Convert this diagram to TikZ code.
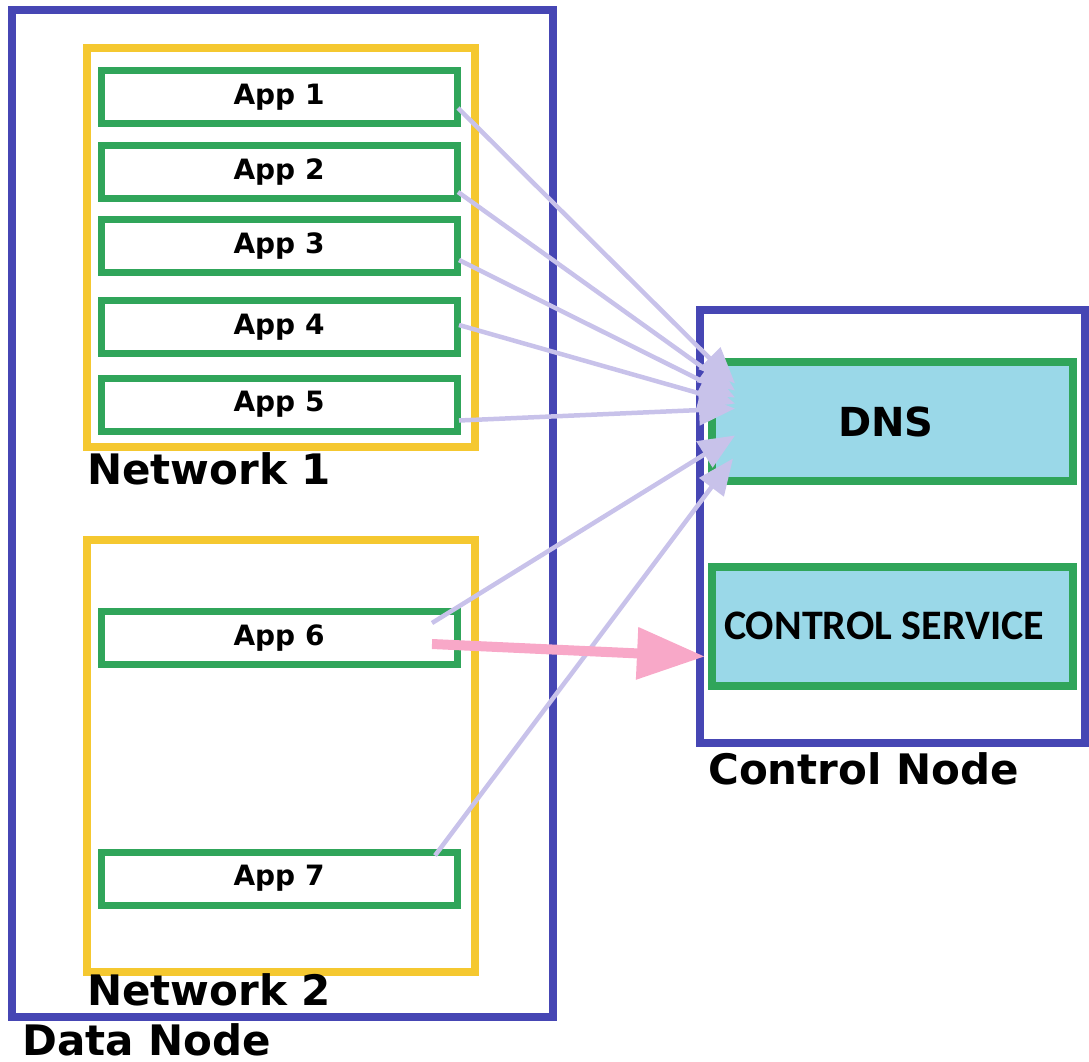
\documentclass[tikz,border=0pt]{standalone}
\usepackage{fontspec}
\setmainfont{DejaVu Sans}
\newfontfamily\calibrifont{Carlito}
\usetikzlibrary{arrows.meta,calc}
\definecolor{nodeblue}{HTML}{4646B4}
\definecolor{netyellow}{HTML}{F5C830}
\definecolor{appgreen}{HTML}{30A55A}
\definecolor{svcfill}{HTML}{9AD8E8}
\definecolor{dnsline}{HTML}{C8C2EA}
\definecolor{ctlline}{HTML}{F8A8C8}
\tikzset{
  hostbox/.style={draw=nodeblue, line width=8pt, rectangle, outer sep=0pt, inner sep=0pt},
  netbox/.style={draw=netyellow, line width=8pt, rectangle, outer sep=0pt, inner sep=0pt},
  appbox/.style={draw=appgreen, line width=7pt, rectangle, outer sep=0pt, minimum width=356pt, minimum height=53pt, font=\bfseries\fontsize{28}{30}\selectfont},
  svcbox/.style={draw=appgreen, fill=svcfill, line width=8pt, rectangle, outer sep=0pt, minimum width=361pt, minimum height=119pt},
  bigtext/.style={inner sep=0pt, anchor=base west, font=\bfseries\fontsize{42}{46}\selectfont},
  dnsarrow/.style={draw=dnsline, line width=4.5pt, -{Triangle[length=36pt,width=30pt]}},
  ctlarrow/.style={draw=ctlline, line width=10pt, -{Triangle[length=68pt,width=50pt]}}
}

\begin{document}
\begin{tikzpicture}[x=1pt, y=-1pt]
\useasboundingbox (0,0) rectangle (1089,1062);
\node[hostbox, minimum width=541pt, minimum height=1007pt] (datanode) at (282.5,513.5) {};
\node[netbox, minimum width=388pt, minimum height=399pt] (net1) at (281,247.5) {};
\node[netbox, minimum width=388pt, minimum height=432pt] (net2) at (281,756) {};
\node[appbox] (app1) at (279,97) {App 1};
\node[appbox] (app2) at (279,172) {App 2};
\node[appbox] (app3) at (279,246) {App 3};
\node[appbox] (app4) at (279,327) {App 4};
\node[appbox] (app5) at (279,404.5) {App 5};
\node[appbox] (app6) at (279,638) {App 6};
\node[appbox] (app7) at (279,878.5) {App 7};
\node[bigtext] (net1lbl) at (87,484) {Network 1};
\node[bigtext] (net2lbl) at (87,1005) {Network 2};
\node[bigtext] (datalbl) at (22,1055) {Data Node};
\node[hostbox, minimum width=385pt, minimum height=433pt] (ctrlnode) at (892.5,526.5) {};
\node[svcbox] (dns) at (892.5,421.5) {};
\node[font=\bfseries\fontsize{40}{44}\selectfont, inner sep=0pt] (dnslbl) at (886,421.5) {DNS};
\node[svcbox] (ctlsvc) at (892.5,626.5) {};
\node[font=\calibrifont\bfseries\fontsize{42}{46}\selectfont, inner sep=0pt] (ctllbl) at (884,626) {CONTROL SERVICE};
\node[bigtext] (ctrllbl) at (708,784) {Control Node};
\draw[dnsarrow] ($(app1.east)+(1,11)$) -- ($(dns.west)+(23,-38)$);
\draw[dnsarrow] ($(app2.east)+(1,20)$) -- ($(dns.west)+(23,-31)$);
\draw[dnsarrow] ($(app3.east)+(2,14)$) -- ($(dns.west)+(23,-24)$);
\draw[dnsarrow] ($(app4.east)+(2,-2)$) -- ($(dns.west)+(23,-18)$);
\draw[dnsarrow] ($(app5.east)+(2,16)$) -- ($(dns.west)+(23,-13)$);
\draw[dnsarrow] ($(app6.east)+(-25,-15)$) -- ($(dns.west)+(23,14)$);
\draw[dnsarrow] ($(app7.east)+(-22,-23)$) -- ($(dns.west)+(21,37)$);
\draw[ctlarrow] ($(app6.east)+(-25,6)$) -- ($(ctlsvc.west)+(-7,30)$);
\end{tikzpicture}
\end{document}
